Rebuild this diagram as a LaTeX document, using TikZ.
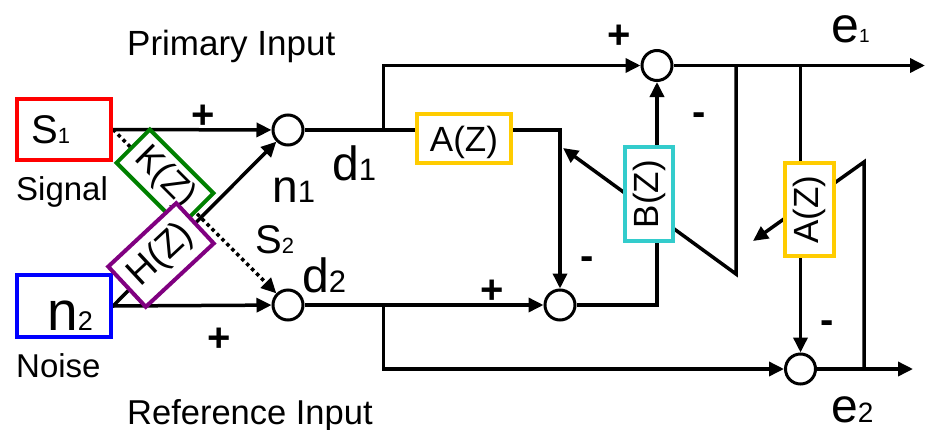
\documentclass[tikz,border=0pt]{standalone}
\usepackage{fontspec}
\setmainfont{Liberation Sans}
\usetikzlibrary{arrows.meta}
\pgfdeclarelayer{bg}
\pgfsetlayers{bg,main}
\definecolor{cred}{RGB}{255,0,0}
\definecolor{cblue}{RGB}{0,0,255}
\definecolor{cgreen}{RGB}{0,128,0}
\definecolor{cpurple}{RGB}{128,0,128}
\definecolor{cyellow}{RGB}{255,204,0}
\definecolor{ccyan}{RGB}{51,204,204}
\newcommand\fs[1]{\fontsize{#1}{#1}\selectfont}
\begin{document}
\begin{tikzpicture}[x=1pt,y=-1pt,
  wire/.style={line width=3.5pt},
  arr/.style={wire,-{Triangle[length=15pt,width=14pt]}},
  dotwire/.style={arr,dash pattern=on 3.5pt off 3.5pt},
  sumnode/.style={circle,draw,line width=3pt,minimum size=30pt,inner sep=0pt,fill=white},
  blockbox/.style={draw,line width=4pt,fill=white,inner sep=0pt,font=\fs{35}},
  lbl/.style={inner sep=0pt,anchor=base west},
  sgn/.style={inner sep=0pt,anchor=base,font=\bfseries\fs{40}}]
\useasboundingbox (0,0) rectangle (927,429);

% input boxes
\node[blockbox,draw=cred,minimum width=94pt,minimum height=61pt] (s1) at (64,129.5) {};
\node[blockbox,draw=cblue,minimum width=94pt,minimum height=62pt] (n2) at (64,306) {};

% filter boxes
\node[blockbox,draw=cgreen,rotate=-45,minimum width=90pt,minimum height=47pt,font=\fs{36}] (kz) at (165,178) {K(Z)};
\node[blockbox,draw=cpurple,rotate=43,minimum width=93pt,minimum height=55pt,font=\fs{37}] (hz) at (161,255) {H(Z)};
\node[blockbox,draw=cyellow,minimum width=94pt,minimum height=49pt,text height=26pt,text depth=0pt] (az1) at (464,138.5) {A(Z)};
\node[blockbox,draw=ccyan,rotate=90,minimum width=94pt,minimum height=48pt] (bz) at (649,194) {B(Z)};
\node[blockbox,draw=cyellow,rotate=90,minimum width=93pt,minimum height=49pt] (az2) at (809.5,209.5) {A(Z)};

% summing junctions
\node[sumnode] (c1) at (288,130) {};
\node[sumnode] (c2) at (288,305) {};
\node[sumnode] (c3) at (560,305) {};
\node[sumnode] (c4) at (657,65.5) {};
\node[sumnode] (c5) at (800.5,369) {};

% helper coordinates
\coordinate (j1) at (383.5,130);
\coordinate (j2) at (383.5,305);
\coordinate (t1) at (736,65.5);
\coordinate (f1) at (736,274);
\coordinate (g1) at (563,148);
\coordinate (r1) at (864,369);
\coordinate (r2) at (864,162);
\coordinate (r3) at (753,241);
\coordinate (e1o) at (925,65.5);
\coordinate (e2o) at (913,369);

\begin{pgfonlayer}{bg}
\draw[arr] (s1.east) -- (c1);
\draw[arr] (n2.east) -- (c2);
\draw[arr] (n2.east) -- (c1.225);
\draw[dotwire] (s1.east) -- (c2.135);
\draw[arr] (c1.east) -| (c3.north);
\draw[arr] (j1) |- (c4.west);
\draw[arr] (c2.east) -- (c3.west);
\draw[arr] (j2) |- (c5.west);
\draw[arr] (c3.east) -| (c4.south);
\draw[arr] (c4.east) -- (e1o);
\draw[arr] (t1) -- (f1) -- (g1);
\draw[arr] (c5.north |- c4) -- (c5.north);
\draw[arr] (r1) -- (r2) -- (r3);
\draw[arr] (c5.east) -- (e2o);
\end{pgfonlayer}

% labels
\node[lbl] (s1t) at (31,143) {\fs{40}S\fs{22}1};
\node[lbl] (sigt) at (16,200) {\fs{33}Signal};
\node[lbl] (n2t) at (47,330) {\fs{55}n\fs{27}2};
\node[lbl] (noit) at (16,377) {\fs{33}Noise};
\node[lbl] (pri) at (127,55) {\fs{35}Primary Input};
\node[lbl] (ref) at (127,424) {\fs{34.5}Reference Input};
\node[lbl] (n1t) at (272,202) {\fs{46}n\fs{31}1};
\node[lbl] (s2t) at (255,253) {\fs{40}S\fs{22}2};
\node[lbl] (d1t) at (332,180) {\fs{48}d\fs{31}1};
\node[lbl] (d2t) at (302,292) {\fs{48}d\fs{31}2};
\node[lbl] (e1t) at (831,42) {\fs{50}e\fs{19}1};
\node[lbl] (e2t) at (831,422) {\fs{48}e\fs{28}2};

% signs
\node[sgn] (p1) at (203,128) {+};
\node[sgn] (p2) at (219,351) {+};
\node[sgn] (p3) at (492,303) {+};
\node[sgn] (p4) at (619,48) {+};
\node[sgn] (m1) at (699,125) {-};
\node[sgn] (m2) at (587,269) {-};
\node[sgn] (m3) at (827,333) {-};
\end{tikzpicture}
\end{document}
